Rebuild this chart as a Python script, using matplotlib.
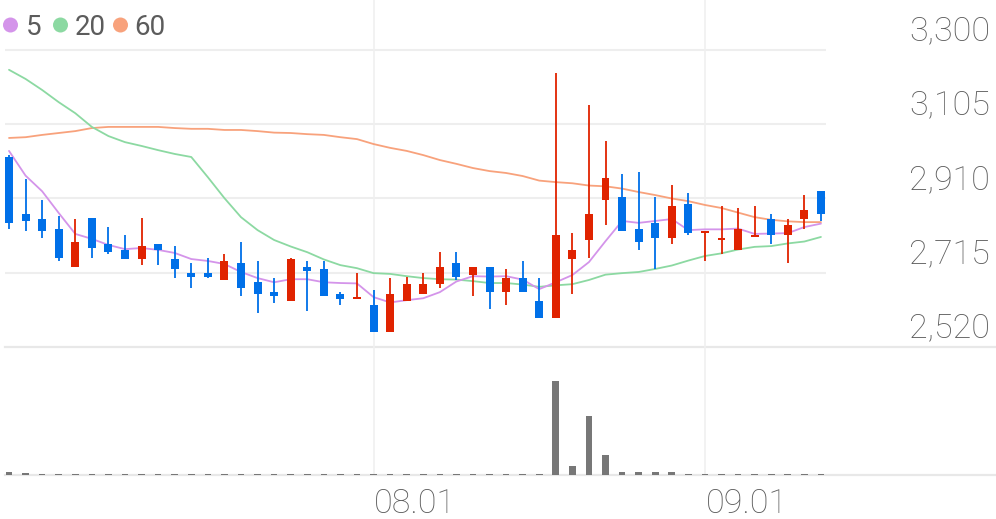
import matplotlib
matplotlib.use("Agg")
import matplotlib.pyplot as plt
import numpy as np

# ---------------- data ----------------
opens = [3020, 2870, 2855, 2830, 2730, 2860, 2790, 2775, 2750, 2790,
         2750, 2715, 2715, 2695, 2740, 2690, 2665, 2640, 2730, 2725,
         2660, 2645, 2630, 2560, 2640, 2660, 2685, 2740, 2710, 2730,
         2665, 2700, 2640, 2595, 2750, 2800, 2905, 2915, 2830, 2845,
         2805, 2895, 2820, 2800, 2775, 2810, 2855, 2815, 2855, 2930]
highs = [3025, 2960, 2905, 2865, 2855, 2860, 2835, 2815, 2860, 2790,
         2785, 2740, 2755, 2765, 2795, 2745, 2700, 2755, 2745, 2745,
         2665, 2715, 2670, 2700, 2705, 2715, 2770, 2770, 2730, 2730,
         2725, 2745, 2700, 3240, 2820, 3155, 3060, 2975, 2980, 2915,
         2945, 2925, 2825, 2890, 2885, 2890, 2870, 2855, 2920, 2930]
lows = [2830, 2825, 2805, 2745, 2730, 2755, 2765, 2750, 2735, 2735,
        2700, 2675, 2700, 2695, 2655, 2610, 2635, 2640, 2615, 2655,
        2630, 2645, 2560, 2560, 2640, 2660, 2675, 2695, 2655, 2620,
        2630, 2665, 2595, 2595, 2660, 2755, 2840, 2825, 2775, 2725,
        2790, 2815, 2745, 2765, 2775, 2810, 2790, 2740, 2830, 2850]
closes = [2845, 2850, 2825, 2755, 2795, 2780, 2770, 2750, 2785, 2775,
          2725, 2705, 2705, 2745, 2675, 2660, 2655, 2750, 2720, 2655,
          2645, 2650, 2560, 2660, 2685, 2685, 2730, 2705, 2730, 2665,
          2700, 2665, 2595, 2815, 2775, 2870, 2965, 2825, 2795, 2805,
          2890, 2820, 2825, 2805, 2830, 2815, 2815, 2840, 2880, 2870]
volumes = [350e3, 200e3, 110e3, 100e3, 120e3, 100e3, 100e3, 110e3, 120e3, 100e3,
           100e3, 100e3, 100e3, 110e3, 120e3, 110e3, 100e3, 120e3, 110e3, 100e3,
           100e3, 100e3, 130e3, 120e3, 100e3, 100e3, 100e3, 100e3, 100e3, 100e3,
           100e3, 100e3, 110e3, 9.4e6, 0.9e6, 5.9e6, 2.0e6, 350e3, 350e3, 350e3,
           300e3, 130e3, 120e3, 120e3, 120e3, 120e3, 130e3, 130e3, 120e3, 110e3]
ma5 = [3035, 2970, 2929, 2872, 2817, 2804, 2788, 2777, 2780, 2775,
       2767, 2751, 2746, 2738, 2717, 2701, 2690, 2698, 2698, 2690,
       2688, 2687, 2651, 2637, 2643, 2648, 2664, 2692, 2706, 2705,
       2706, 2697, 2672, 2690, 2709, 2743, 2798, 2851, 2846, 2851,
       2856, 2827, 2829, 2829, 2831, 2817, 2818, 2819, 2835, 2844]
ma20 = [3248, 3224, 3195, 3163, 3134, 3098, 3074, 3058, 3048, 3037,
        3027, 3019, 2966, 2911, 2861, 2827, 2801, 2784, 2769, 2750,
        2735, 2727, 2714, 2712, 2706, 2701, 2698, 2697, 2693, 2688,
        2688, 2684, 2678, 2682, 2685, 2696, 2710, 2714, 2717, 2725,
        2734, 2747, 2759, 2766, 2776, 2783, 2785, 2792, 2797, 2809]
ma60 = [3069, 3071, 3077, 3082, 3087, 3095, 3098, 3098, 3098, 3098,
        3095, 3093, 3093, 3090, 3090, 3087, 3083, 3082, 3079, 3077,
        3071, 3066, 3053, 3043, 3035, 3024, 3011, 3001, 2990, 2982,
        2977, 2969, 2957, 2953, 2950, 2944, 2942, 2936, 2927, 2919,
        2910, 2903, 2893, 2885, 2873, 2861, 2854, 2850, 2848, 2848]
y_ticks = [3300, 3105, 2910, 2715, 2520]
x_tick_idx = [22, 42]
x_tick_labels = ["08.01", "09.01"]
legend_labels = ["5", "20", "60"]

# ---------------- style ----------------
UP = "#e02300"
DOWN = "#0070e8"
MA_COLORS = ["#d494ea", "#8cd9a2", "#f8a27c"]
GRID = "#eeeeee"
TXT = "#5c5c5c"
FONT = "Roboto"

W, H = 996, 519
fig = plt.figure(figsize=(W / 100, H / 100), dpi=100)

def px_rect(x0, y0, x1, y1):
    return [x0 / W, 1 - y1 / H, (x1 - x0) / W, (y1 - y0) / H]

n = len(closes)
idx = np.arange(n)
step = 16.57
x0px = 9.0
xl = ((5 - x0px) / step, (W - x0px) / step)
grid_right = (826 - x0px) / step

# price axes: pixel rows 0..347 ; 3300 at 50 px, 2520 at 347 px
ppp = (3300 - 2520) / (347 - 50)
ax = fig.add_axes(px_rect(5, 0, W, 347))
ax.set_xlim(xl)
ax.set_ylim(2520, 3300 + 50 * ppp)
ax.axis("off")

vax = fig.add_axes(px_rect(5, 347, W, 475))
vax.set_xlim(xl)
vax.set_ylim(0, 12.8e6)
vax.axis("off")

# grid
for y in y_ticks[:-1]:
    ax.hlines(y, xl[0], grid_right, color=GRID, lw=1.5, zorder=0)
ax.axhline(y_ticks[-1], color="#e8e8e8", lw=1.6, zorder=0, clip_on=False)
vax.axhline(0, color="#e8e8e8", lw=1.6, zorder=1, clip_on=False)
for xi in x_tick_idx:
    ax.axvline(xi, color="#f0f0f0", lw=1.2, zorder=0)
    vax.axvline(xi, color="#f0f0f0", lw=1.2, zorder=0)

# moving averages
for ma, c in zip([ma60, ma20, ma5], [MA_COLORS[2], MA_COLORS[1], MA_COLORS[0]]):
    ax.plot(idx, ma, color=c, lw=1.3, zorder=2, solid_capstyle="round")

# candles
o = np.array(opens, float); c = np.array(closes, float)
hi = np.array(highs, float); lo = np.array(lows, float)
up = c >= o
cols = np.where(up, UP, DOWN)
ax.vlines(idx, lo, hi, colors=cols, lw=1.3, zorder=3)
bottom = np.minimum(o, c)
height = np.maximum(np.abs(c - o), 4.0)
ax.bar(idx, height, bottom=bottom, width=0.48, color=cols, lw=0, zorder=4)

# volume
vax.bar(idx, volumes, width=0.4, color="#777777", lw=0, zorder=2)

# y labels
for y in y_ticks:
    ax.annotate(f"{y:,}", xy=(990 / W, y), xycoords=("figure fraction", "data"),
                xytext=(0, 7), textcoords="offset points", ha="right",
                va="baseline", fontsize=24.5, color=TXT, family=FONT,
                fontweight="light", annotation_clip=False)

# x labels
for xi, lab in zip(x_tick_idx, x_tick_labels):
    vax.annotate(lab, xy=(xi, 6 / H), xycoords=("data", "figure fraction"),
                 xytext=(0.5, 0), textcoords="offset points", ha="left",
                 va="baseline", fontsize=24.5, color=TXT, family=FONT,
                 fontweight="light", annotation_clip=False)

# legend (figure pixel overlay)
lax = fig.add_axes([0, 0, 1, 1], facecolor="none")
lax.set_xlim(0, W); lax.set_ylim(H, 0); lax.axis("off")
centers = [10.5, 60.5, 120.5]
text_x = [27, 76, 136]
for cx, tx, lab, col in zip(centers, text_x, legend_labels, MA_COLORS):
    lax.add_patch(plt.Circle((cx, 25), 7.5, color=col, lw=0))
    lax.text(tx - 1.5, 35, lab, fontsize=20, color=TXT, family=FONT,
             ha="left", va="baseline")

fig.savefig("out.png", dpi=100)
